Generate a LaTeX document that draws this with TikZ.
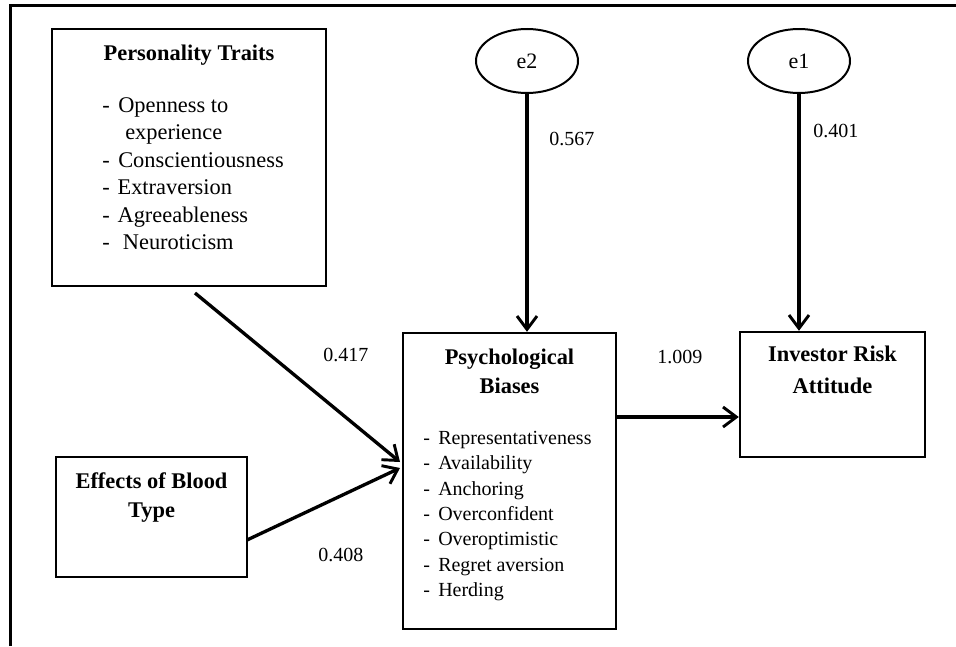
\documentclass[tikz,border=0pt]{standalone}
\usepackage{fontspec}
\setmainfont{Liberation Serif}
\usetikzlibrary{arrows.meta,shapes.geometric}
\begin{document}
\begin{tikzpicture}[x=0.75pt,y=-0.75pt,
  box/.style={draw, line width=1.8pt, inner sep=0pt, rectangle},
  err/.style={draw, ellipse, line width=1.5pt, minimum width=76.5pt, minimum height=48pt, inner sep=0pt, font=\fontsize{16.5}{20}\selectfont},
  title/.style={anchor=base, inner sep=0pt, font=\fontsize{16.8}{20}\selectfont\bfseries},
  item/.style={anchor=base west, inner sep=0pt, font=\fontsize{16.8}{20}\selectfont},
  sitem/.style={anchor=base west, inner sep=0pt, font=\fontsize{15}{18}\selectfont},
  coef/.style={anchor=base west, inner sep=0pt, font=\fontsize{15}{18}\selectfont},
  link/.style={line width=2.5pt, -{Straight Barb[length=10pt,width=15pt,line width=2.2pt]}}
]
\useasboundingbox (0,0) rectangle (956,646);
% outer frame (only left and top edges visible)
\coordinate (fb) at (10.5,646);
\coordinate (fc) at (10.5,5.5);
\coordinate (fr) at (956,5.5);
\draw[line width=2.1pt] (fb) -- (fc) -- (fr);

% boxes
\node[box, minimum width=205.5pt, minimum height=192.75pt] (pt) at (189,157.5) {};
\node[box, minimum width=143.25pt, minimum height=90pt] (bt) at (151.5,517) {};
\node[box, minimum width=159.75pt, minimum height=222pt] (ps) at (509.5,481) {};
\node[box, minimum width=138.75pt, minimum height=93.75pt] (inv) at (832.5,394.5) {};
\node[err] (e2) at (527,61) {e2};
\node[err] (e1) at (799,61) {e1};

% personality traits text
\node[title] (ptt) at (189,60) {Personality Traits};
\node[item] (pt1) at (102,112) {\makebox[12pt][l]{-}Openness to};
\node[item] (pt1b) at (125,139.5) {experience};
\node[item] (pt2) at (102,167) {\makebox[12pt][l]{-}Conscientiousness};
\node[item] (pt3) at (102,194.5) {\makebox[11.5pt][l]{-}Extraversion};
\node[item] (pt4) at (102,222) {\makebox[11.5pt][l]{-}Agreeableness};
\node[item] (pt5) at (102,249.5) {\makebox[15.5pt][l]{-}Neuroticism};

% blood type text
\node[title] (btt1) at (151.5,488) {Effects of Blood};
\node[title] (btt2) at (151.5,517) {Type};

% psychological biases text
\node[title] (pst1) at (509.5,364) {Psychological};
\node[title] (pst2) at (509.5,393) {Biases};
\node[sitem] (ps1) at (423,444) {\makebox[11.25pt][l]{-}Representativeness};
\node[sitem] (ps2) at (423,469.5) {\makebox[11.25pt][l]{-}Availability};
\node[sitem] (ps3) at (423,495) {\makebox[11.25pt][l]{-}Anchoring};
\node[sitem] (ps4) at (423,520) {\makebox[11.25pt][l]{-}Overconfident};
\node[sitem] (ps5) at (423,545.5) {\makebox[11.25pt][l]{-}Overoptimistic};
\node[sitem] (ps6) at (423,571) {\makebox[11.25pt][l]{-}Regret aversion};
\node[sitem] (ps7) at (423,596) {\makebox[11.25pt][l]{-}Herding};

% investor text
\node[title] (invt1) at (832.5,361) {Investor Risk};
\node[title] (invt2) at (832.5,393) {Attitude};

% connectors
\coordinate (ptout) at (195,293);
\coordinate (psin1) at (400,462);
\coordinate (btout) at (247,540);
\coordinate (psin2) at (400,468);
\coordinate (psout) at (616,417);
\draw[link] (ptout) -- (psin1);
\draw[link] (btout) -- (psin2);
\draw[link] (psout) -- (inv.west |- psout);
\draw[link] (e2.south) -- (e2.south |- ps.north);
\draw[link] (e1.south) -- (e1.south |- inv.north);

% coefficients
\node[coef] (c1) at (323,361) {0.417};
\node[coef] (c2) at (318,561) {0.408};
\node[coef] (c3) at (657,363) {1.009};
\node[coef] (c4) at (549,145) {0.567};
\node[coef] (c5) at (813,137) {0.401};
\end{tikzpicture}
\end{document}
